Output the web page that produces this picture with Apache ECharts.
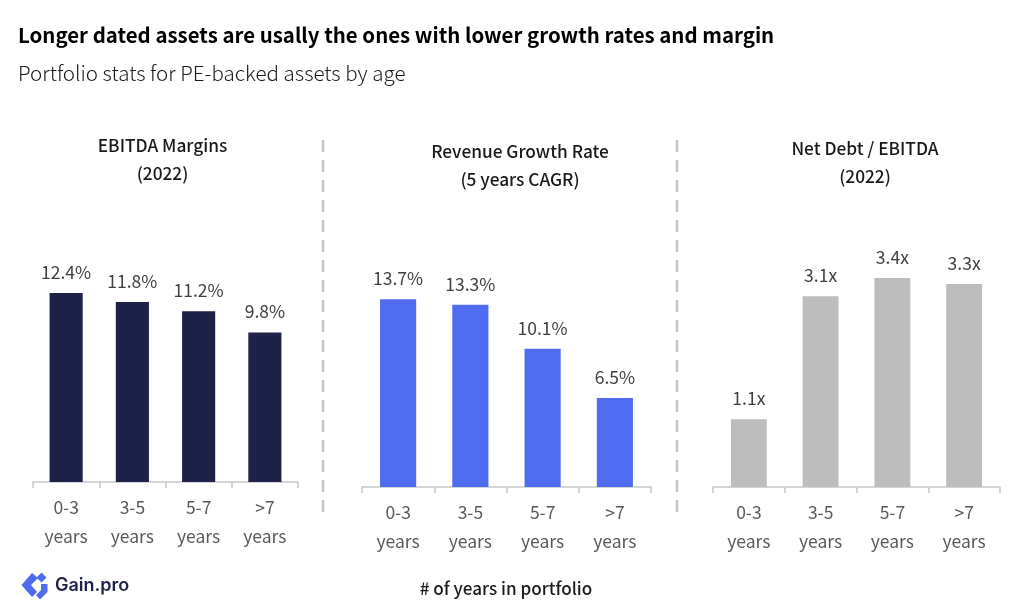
<!DOCTYPE html>
<html>
<head>
<meta charset="utf-8">
<style>html,body{margin:0;padding:0;background:#fff}#chart{width:1024px;height:615px}</style>
<script src="https://cdn.jsdelivr.net/npm/echarts@6/dist/echarts.min.js"></script>
</head>
<body>
<div id="chart"></div>
<script>
// Portfolio stats for PE-backed assets, by years held
const categories = ['0-3\nyears', '3-5\nyears', '5-7\nyears', '>7\nyears'];
const ebitdaMargins = [12.4, 11.8, 11.2, 9.8];
const revenueGrowth = [13.7, 13.3, 10.1, 6.5];
const netDebtMultiple = [1.1, 3.1, 3.4, 3.3];

const FONT = '"Noto Sans CJK SC","Noto Sans",sans-serif';
const chart = echarts.init(document.getElementById('chart'));

const panels = [
  { data: ebitdaMargins, color: '#1e2148', suffix: '%', max: 20, left: 33, width: 265, top: 177, height: 305 },
  { data: revenueGrowth, color: '#4f6bef', suffix: '%', max: 20, left: 362, width: 289, top: 213, height: 274 },
  { data: netDebtMultiple, color: '#bdbdbd', suffix: 'x', max: 5, left: 713, width: 287, top: 179.5, height: 307.5 }
];

const panelTitles = [
  { text: 'EBITDA Margins\n(2022)', x: 162.5, y: 131 },
  { text: 'Revenue Growth Rate\n(5 years CAGR)', x: 520, y: 137 },
  { text: 'Net Debt / EBITDA\n(2022)', x: 865, y: 134 }
];

function textEl(text, x, y, size, weight, color, align, lineHeight, family) {
  return {
    type: 'text', x, y, silent: true,
    style: { text, font: `${weight} ${size}px ${family || FONT}`, fill: color, textAlign: align || 'left', lineHeight: lineHeight || size * 1.3 }
  };
}

function divider(x) {
  return {
    type: 'line', silent: true,
    shape: { x1: x, y1: 140, x2: x, y2: 520 },
    style: { stroke: '#c4c4c4', lineWidth: 2.5, lineDash: [12, 8] }
  };
}

// Brand mark: interlocking blue shapes beside the wordmark
const logoMark = [
  { type: 'polygon', shape: { points: [[32, 573], [21.5, 585], [32, 597], [37, 592], [31, 585], [38, 578]] }, style: { fill: '#4f6bef' } },
  { type: 'polygon', shape: { points: [[41.5, 572.5], [46.5, 577.5], [41.5, 582.5], [36.5, 577.5]] }, style: { fill: '#4f6bef' } },
  { type: 'polygon', shape: { points: [[41, 584], [47.5, 584], [47.5, 592], [40, 599.5], [36, 595], [41, 590]] }, style: { fill: '#4f6bef' } }
];

chart.setOption({
  animation: false,
  backgroundColor: '#fff',
  grid: panels.map(p => ({ left: p.left, width: p.width, top: p.top, height: p.height })),
  xAxis: panels.map((p, i) => ({
    type: 'category', gridIndex: i, data: categories,
    axisLine: { lineStyle: { color: '#c8c8c8', width: 1.5 } },
    axisTick: { show: true, length: 6, alignWithLabel: false, lineStyle: { color: '#c8c8c8', width: 1.5 } },
    axisLabel: { color: '#595959', fontFamily: FONT, fontSize: 17.5, lineHeight: 29, margin: 11, interval: 0 }
  })),
  yAxis: panels.map((p, i) => ({ type: 'value', gridIndex: i, min: 0, max: p.max, show: false, splitLine: { show: false } })),
  series: panels.map((p, i) => ({
    type: 'bar', xAxisIndex: i, yAxisIndex: i, data: p.data, barWidth: '50%',
    itemStyle: { color: p.color },
    label: {
      show: true, position: 'top', distance: 12, color: '#404040', fontFamily: FONT, fontSize: 17.5,
      formatter: d => d.value.toFixed(1) + p.suffix
    }
  })),
  graphic: [
    textEl('Longer dated assets are usally the ones with lower growth rates and margin', 18, 21, 20.45, 700, '#000', 'left', 28),
    textEl('Portfolio stats for PE-backed assets by age', 18, 59, 20.6, 300, '#1a1a1a', 'left', 28),
    ...panelTitles.map(t => textEl(t.text, t.x, t.y, 17.3, 500, '#1a1a1a', 'center', 28)),
    divider(323),
    divider(677),
    textEl('# of years in portfolio', 506, 576, 17.1, 500, '#1a1a1a', 'center', 24),
    ...logoMark,
    textEl('Gain.pro', 55, 574, 18, 600, '#1e2148', 'left', 24, 'Inter,sans-serif')
  ]
});
</script>
</body>
</html>
